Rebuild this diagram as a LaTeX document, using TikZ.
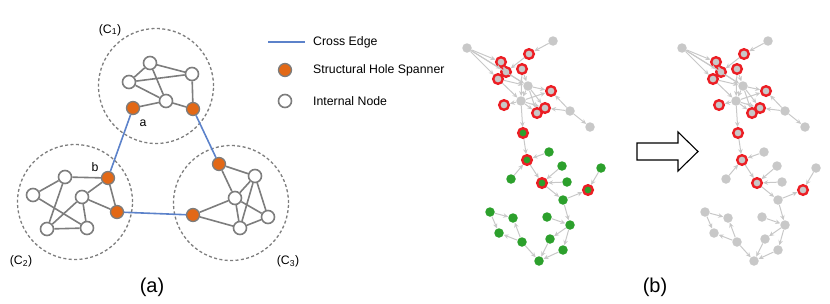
\documentclass[tikz,border=0pt]{standalone}
\usepackage{fontspec}
\setmainfont{Liberation Sans}
\usepackage{tikz}
\usetikzlibrary{arrows.meta}

\definecolor{edgegray}{RGB}{125,125,125}
\definecolor{holeorange}{RGB}{226,104,22}
\definecolor{crossblue}{RGB}{92,130,202}
\definecolor{netgray}{RGB}{200,200,200}
\definecolor{linkgray}{RGB}{200,200,200}
\definecolor{netgreen}{RGB}{44,160,44}
\definecolor{ringred}{RGB}{236,30,36}

% the network of panel (b), drawn twice
\newcommand{\netdraw}{%
	% upper part
	\node[gnode] (g1) at (467,48) {};
	\node[gnode] (g2) at (553,41) {};
	\node[gnode] (g3) at (528,86) {};
	\node[gnode] (g4) at (521,101) {};
	\node[gnode] (g5) at (570,111) {};
	\node[gnode] (g6) at (590,127) {};
	\node[rnode] (r1) at (501,62) {};
	\node[rnode] (r2) at (529,54) {};
	\node[rnode] (r3) at (506,72) {};
	\node[rnode] (r4) at (498,79) {};
	\node[rnode] (r5) at (522,69) {};
	\node[rnode] (r6) at (551,91) {};
	\node[rnode] (r7) at (504,105) {};
	\node[rnode] (r8) at (545,108) {};
	\node[rnode] (r9) at (537,113) {};
	% middle part
	\node[snode] (s1) at (523,133) {};
	\node[snode] (s2) at (527,160) {};
	\node[snode] (s3) at (542,183) {};
	\node[snode] (s4) at (588,190) {};
	\node[cnode] (n1) at (549,152) {};
	\node[cnode] (n2) at (511,179) {};
	\node[cnode] (n3) at (562,166) {};
	\node[cnode] (n4) at (567,182) {};
	\node[cnode] (n5) at (563,200) {};
	\node[cnode] (n6) at (601,168) {};
	% lower part
	\node[cnode] (n7) at (490,212) {};
	\node[cnode] (n8) at (513,218) {};
	\node[cnode] (n9) at (499,233) {};
	\node[cnode] (n10) at (522,242) {};
	\node[cnode] (n11) at (539,261) {};
	\node[cnode] (n12) at (550,239) {};
	\node[cnode] (n13) at (563,250) {};
	\node[cnode] (n14) at (547,217) {};
	\node[cnode] (n15) at (570,225) {};
	% links
	\draw[link] (g1) -- (r1);
	\draw[link] (g1) -- (r3);
	\draw[link] (g1) -- (r4);
	\draw[link] (g1) -- (g3);
	\draw[link] (g2) -- (r2);
	\draw[link] (r2) -- (r3);
	\draw[link] (r1) -- (r3);
	\draw[link] (r3) -- (g3);
	\draw[link] (r4) -- (g3);
	\draw[link] (r4) -- (g4);
	\draw[link] (r5) -- (g3);
	\draw[link] (r5) -- (g4);
	\draw[link] (g3) -- (g4);
	\draw[link] (g3) -- (r6);
	\draw[link] (g3) -- (r8);
	\draw[link] (g3) -- (r9);
	\draw[link] (g4) -- (r7);
	\draw[link] (g4) -- (r8);
	\draw[link] (g4) -- (r9);
	\draw[link] (g4) -- (r6);
	\draw[link] (g5) -- (r6);
	\draw[link] (g5) -- (r8);
	\draw[link] (g5) -- (g6);
	\draw[link] (g4) -- (s1);
	\draw[link] (s1) -- (s2);
	\draw[link] (n1) -- (s2);
	\draw[link] (n2) -- (s2);
	\draw[link] (s2) -- (s3);
	\draw[link] (n3) -- (s3);
	\draw[link] (n4) -- (s3);
	\draw[link] (s3) -- (n5);
	\draw[link] (n5) -- (s4);
	\draw[link] (n6) -- (s4);
	\draw[link] (n5) -- (n15);
	\draw[link] (n14) -- (n15);
	\draw[link] (n15) -- (n12);
	\draw[link] (n15) -- (n13);
	\draw[link] (n12) -- (n11);
	\draw[link] (n13) -- (n11);
	\draw[link] (n10) -- (n11);
	\draw[link] (n10) -- (n8);
	\draw[link] (n10) -- (n9);
	\draw[link] (n7) -- (n8);
	\draw[link] (n7) -- (n9);
}

\begin{document}
\begin{tikzpicture}[x=1pt, y=-1pt]

	\tikzstyle{cluster} = [circle, draw=edgegray, line width=1.3pt, dash pattern=on 3pt off 2.4pt, minimum size=115pt, inner sep=0]
	\tikzstyle{inode} = [circle, draw=edgegray, fill=white, line width=1.6pt, minimum size=13pt, inner sep=0]
	\tikzstyle{hnode} = [circle, draw=edgegray, fill=holeorange, line width=1.3pt, minimum size=13pt, inner sep=0]
	\tikzstyle{iedge} = [draw=edgegray, line width=1.6pt]
	\tikzstyle{cedge} = [draw=crossblue, line width=1.6pt]
	\tikzstyle{label} = [font=\fontsize{12.3}{14}\selectfont, inner sep=0]
	\tikzstyle{gnode} = [circle, fill=netgray, minimum size=9.5pt, inner sep=0]
	\tikzstyle{rnode} = [circle, fill=netgray, draw=ringred, line width=2.4pt, minimum size=9.6pt, inner sep=0]
	\tikzstyle{cnode} = [circle, fill=netgreen, minimum size=9.5pt, inner sep=0]
	\tikzstyle{snode} = [circle, fill=netgreen, draw=ringred, line width=2.4pt, minimum size=9.6pt, inner sep=0]
	\tikzstyle{link} = [draw=linkgray, line width=1pt, -{Stealth[length=5pt, width=4.5pt]}]

	\useasboundingbox (0,0) rectangle (830,303);

	% clusters of panel (a)
	\node[cluster] (c1) at (156,86) {};
	\node[cluster] (c2) at (75,202) {};
	\node[cluster] (c3) at (231,203) {};
	\node[label] (c1lab) at (110,30) {(C\textsubscript{1})};
	\node[label] (c2lab) at (21,261) {(C\textsubscript{2})};
	\node[label] (c3lab) at (288,261) {(C\textsubscript{3})};

	% cluster C1
	\node[inode] (ua) at (150,63) {};
	\node[inode] (ub) at (129,82) {};
	\node[inode] (uc) at (192,74) {};
	\node[inode] (ud) at (166,101) {};
	\node[hnode] (ha) at (133,108) {};
	\node[hnode] (hb) at (193,109) {};
	\draw[iedge] (ua) -- (ub);
	\draw[iedge] (ua) -- (uc);
	\draw[iedge] (ub) -- (uc);
	\draw[iedge] (ua) -- (ud);
	\draw[iedge] (ub) -- (ud);
	\draw[iedge] (ud) -- (ha);
	\draw[iedge] (ud) -- (hb);
	\draw[iedge] (uc) -- (hb);

	% cluster C2
	\node[inode] (va) at (65,177) {};
	\node[inode] (vb) at (33,195) {};
	\node[inode] (vc) at (82,197) {};
	\node[inode] (vd) at (47,229) {};
	\node[inode] (ve) at (87,228) {};
	\node[hnode] (hc) at (108,178) {};
	\node[hnode] (hd) at (117,212) {};
	\draw[iedge] (va) -- (hc);
	\draw[iedge] (va) -- (vb);
	\draw[iedge] (va) -- (vd);
	\draw[iedge] (vb) -- (ve);
	\draw[iedge] (vc) -- (vd);
	\draw[iedge] (vc) -- (ve);
	\draw[iedge] (vd) -- (ve);
	\draw[iedge] (vc) -- (hc);
	\draw[iedge] (vc) -- (hd);
	\draw[iedge] (hc) -- (hd);

	% cluster C3
	\node[inode] (wa) at (255,176) {};
	\node[inode] (wb) at (235,198) {};
	\node[inode] (wc) at (268,217) {};
	\node[inode] (wd) at (240,228) {};
	\node[hnode] (he) at (219,164) {};
	\node[hnode] (hf) at (193,215) {};
	\draw[iedge] (he) -- (wa);
	\draw[iedge] (he) -- (wb);
	\draw[iedge] (wa) -- (wb);
	\draw[iedge] (wa) -- (wd);
	\draw[iedge] (wa) -- (wc);
	\draw[iedge] (wb) -- (wc);
	\draw[iedge] (wb) -- (wd);
	\draw[iedge] (wc) -- (wd);
	\draw[iedge] (hf) -- (wb);
	\draw[iedge] (hf) -- (wd);

	% cross edges
	\draw[cedge] (ha) -- (hc);
	\draw[cedge] (hb) -- (he);
	\draw[cedge] (hd) -- (hf);
	\node[label] (alab) at (143,123) {a};
	\node[label] (blab) at (95,167) {b};

	% legend
	\coordinate (lgs) at (268,42);
	\coordinate (lge) at (305,42);
	\draw[cedge] (lgs) -- (lge);
	\node[hnode] (lghole) at (285,70) {};
	\node[inode] (lginner) at (285,101) {};
	\node[label, anchor=west] (lgt1) at (313,42) {Cross Edge};
	\node[label, anchor=west] (lgt2) at (313,70) {Structural Hole Spanner};
	\node[label, anchor=west] (lgt3) at (313,101) {Internal Node};

	% panel (b)
	\begin{scope}[name prefix=L-]
		\netdraw
	\end{scope}
	\begin{scope}[xshift=215, name prefix=R-, cnode/.style={gnode}, snode/.style={rnode}]
		\netdraw
	\end{scope}

	% block arrow between the two networks
	\draw[line width=1.1pt, fill=white] (637,143) -- (678,143) -- (678,132) -- (698,151.5) -- (678,171) -- (678,160) -- (637,160) -- cycle;

	% captions
	\node[font=\fontsize{20}{24}\selectfont, inner sep=0] (capa) at (152,287) {(a)};
	\node[font=\fontsize{20}{24}\selectfont, inner sep=0] (capb) at (655,287) {(b)};

\end{tikzpicture}
\end{document}
